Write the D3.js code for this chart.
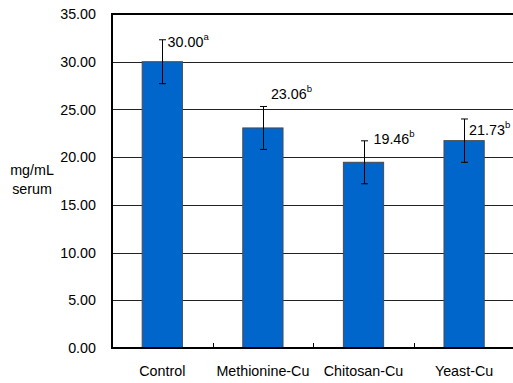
<!DOCTYPE html>
<html><head><meta charset="utf-8">
<script src="https://cdn.jsdelivr.net/npm/d3@7"></script>
<style>body{margin:0;background:#fff}svg{display:block}text{font-family:"Liberation Sans",Arial,sans-serif;fill:#000}</style>
</head><body>
<script>
const categories = ["Control", "Methionine-Cu", "Chitosan-Cu", "Yeast-Cu"];
const means = [30.00, 23.06, 19.46, 21.73];
const errors = [2.3, 2.25, 2.25, 2.27];
const valueLabels = ["30.00", "23.06", "19.46", "21.73"];
const letters = ["a", "b", "b", "b"];
const labelAt = [31.57, 26.05, 21.38, 22.37];
const yTicks = [0, 5, 10, 15, 20, 25, 30, 35];

(function () {
const W = 513, H = 383;
const svg = d3.select("body").append("svg").attr("width", W).attr("height", H);
const pl = 112, pr = 514.4, pt = 14, pb = 348;
const x = d3.scaleBand().domain(categories).range([pl, pr]).padding(0);
const y = d3.scaleLinear().domain([0, 35]).range([pb, pt]);
const barW = x.bandwidth() * 0.4;
const labelDx = [5.3, 8, 10, 5];

// gridlines
svg.append("g").selectAll("line").data(yTicks.filter(d => d > 0 && d < 35)).join("line")
  .attr("x1", pl).attr("x2", W).attr("y1", d => Math.round(y(d)) + 0.5).attr("y2", d => Math.round(y(d)) + 0.5)
  .attr("stroke", "#222").attr("stroke-width", 1);

// y tick labels
svg.append("g").selectAll("text").data(yTicks).join("text")
  .attr("x", 96).attr("y", d => y(d)).attr("dy", "0.36em").attr("text-anchor", "end")
  .style("font-size", "14.3px").text(d => d.toFixed(2));

// bars
svg.append("g").selectAll("rect").data(categories).join("rect")
  .attr("x", d => x(d) + x.bandwidth() / 2 - barW / 2)
  .attr("width", barW)
  .attr("y", (d, i) => y(means[i]))
  .attr("height", (d, i) => pb - y(means[i]))
  .attr("fill", "#0066CC").attr("stroke", "#4a4a4a").attr("stroke-width", 1);

// error bars
const eg = svg.append("g").attr("stroke", "#000").attr("stroke-width", 1);
categories.forEach((c, i) => {
  const cx = Math.round(x(c) + x.bandwidth() / 2) + 0.5;
  const t = y(means[i] + errors[i]), b = y(means[i] - errors[i]);
  eg.append("line").attr("x1", cx).attr("x2", cx).attr("y1", t).attr("y2", b);
  eg.append("line").attr("x1", cx - 3.5).attr("x2", cx + 3.5).attr("y1", t).attr("y2", t);
  eg.append("line").attr("x1", cx - 3.5).attr("x2", cx + 3.5).attr("y1", b).attr("y2", b);
});

// value labels
categories.forEach((c, i) => {
  const cx = x(c) + x.bandwidth() / 2;
  const t = svg.append("text").attr("x", cx + labelDx[i]).attr("y", y(labelAt[i])).style("font-size", "14.3px");
  t.append("tspan").text(valueLabels[i]);
  t.append("tspan").attr("dy", -7).style("font-size", "9.5px").text(letters[i]);
});

// axes / frame
svg.append("line").attr("x1", pl).attr("x2", pl).attr("y1", pt - 1).attr("y2", pb + 1).attr("stroke", "#000").attr("stroke-width", 2);
svg.append("line").attr("x1", pl - 1).attr("x2", W).attr("y1", pt).attr("y2", pt).attr("stroke", "#000").attr("stroke-width", 2);
svg.append("line").attr("x1", pl - 1).attr("x2", W).attr("y1", pb).attr("y2", pb).attr("stroke", "#000").attr("stroke-width", 2);

// x ticks (inside) at band boundaries
svg.append("g").selectAll("line").data(categories.slice(1)).join("line")
  .attr("x1", d => Math.round(x(d)) + 0.5).attr("x2", d => Math.round(x(d)) + 0.5)
  .attr("y1", pb).attr("y2", pb - 5).attr("stroke", "#000").attr("stroke-width", 1);

// x labels
svg.append("g").selectAll("text").data(categories).join("text")
  .attr("x", d => x(d) + x.bandwidth() / 2).attr("y", 376).attr("text-anchor", "middle")
  .style("font-size", "14.3px").text(d => d);

// y axis title
const yt = svg.append("text").attr("text-anchor", "middle").style("font-size", "14.3px");
yt.append("tspan").attr("x", 32).attr("y", 175).text("mg/mL");
yt.append("tspan").attr("x", 32).attr("y", 193.5).text("serum");
})();
</script>
</body></html>
